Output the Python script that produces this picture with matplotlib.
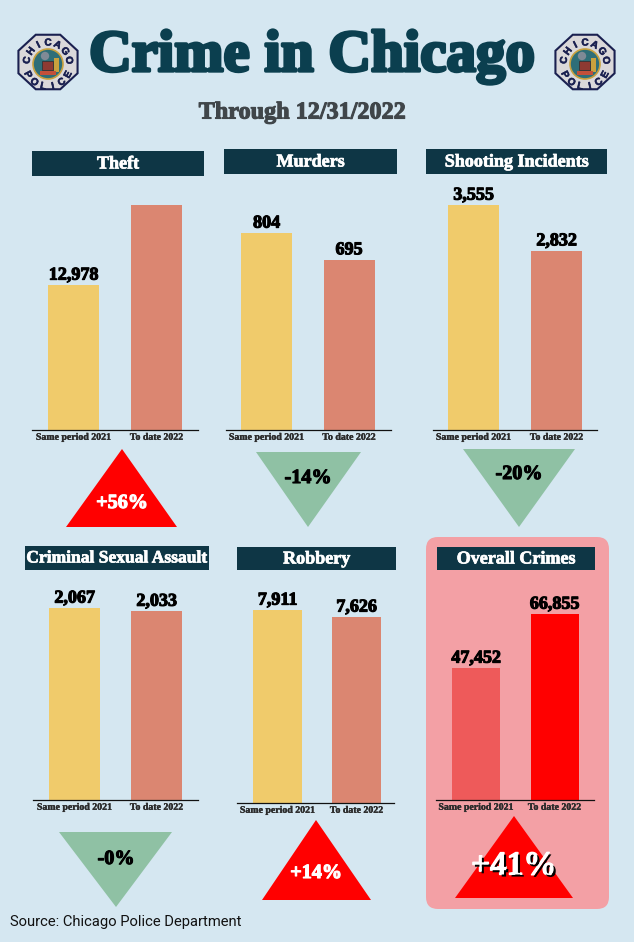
import numpy as np
import matplotlib
matplotlib.use("Agg")
import matplotlib.pyplot as plt
from matplotlib.patches import Polygon, Rectangle, FancyBboxPatch, Circle
import matplotlib.patheffects as pe

W, H = 634, 942
BG = "#D5E7F1"; NAVY = "#0E3645"; YEL = "#F0CB6B"; SAL = "#DB8671"
RED = "#FF0000"; GRN = "#8FC1A4"; LRED = "#EE5A5A"; PINK = "#F3A0A5"
SERIF = ["Liberation Serif", "DejaVu Serif"]

title = "Crime in Chicago"
subtitle = "Through 12/31/2022"
source = "Source: Chicago Police Department"
categories = ["Same period 2021", "To date 2022"]
panel_names = ["Theft", "Murders", "Shooting Incidents",
               "Criminal Sexual Assault", "Robbery", "Overall Crimes"]
theft = [12978, 20150]
murders = [804, 695]
shootings = [3555, 2832]
assault = [2067, 2033]
robbery = [7911, 7626]
overall = [47452, 66855]
changes = ["+56%", "-14%", "-20%", "-0%", "+14%", "+41%"]

fig = plt.figure(figsize=(W / 100, H / 100), dpi=100, facecolor=BG)
bgax = fig.add_axes([0, 0, 1, 1], zorder=0)
bgax.set_xlim(0, W); bgax.set_ylim(H, 0); bgax.axis("off")
top = fig.add_axes([0, 0, 1, 1], zorder=5)
top.set_xlim(0, W); top.set_ylim(H, 0); top.axis("off"); top.patch.set_alpha(0)


def bold(t, w=0.7, c=None):
    return t.set_path_effects([pe.withStroke(linewidth=w, foreground=c or t.get_color())])


def badge(cx, cy):
    ang = np.deg2rad(np.arange(22.5, 360, 45))
    top.add_patch(Polygon(np.c_[cx + 32 * np.cos(ang), cy + 29.5 * np.sin(ang)],
                          fc="#DAD8DA", ec="#1A2050", lw=1.5))
    c2 = cy + 2
    top.add_patch(Circle((cx, c2), 15, fc="#2E6E78", ec="#C9A13E", lw=1.2))
    top.add_patch(Rectangle((cx - 6, c2 - 3), 11, 9, fc="#8E3A32", ec="#222222", lw=0.4))
    top.add_patch(Circle((cx - 3, c2 - 8), 4.2, fc="#7F8A96", ec="none"))
    top.add_patch(Rectangle((cx + 6, c2 - 6), 5, 14, fc="#C9A13E", ec="none"))
    top.add_patch(Rectangle((cx - 8, c2 + 7), 16, 3.5, fc="#C2503A", ec="none"))
    for word, a0, a1, rr, up in [("CHICAGO", 190, 350, 21.5, True), ("POLICE", 152, 28, 22.5, False)]:
        for ch, a in zip(word, np.linspace(a0, a1, len(word))):
            ar = np.deg2rad(a)
            rot = (270 - a) if up else (90 - a)
            t = top.text(cx + rr * np.cos(ar), c2 + rr * np.sin(ar), ch, fontsize=7.2,
                         fontweight="bold", color="#1A2050", rotation=rot, ha="center",
                         va="center", family=["Liberation Sans", "DejaVu Sans"],
                         rotation_mode="anchor")
            bold(t, 0.4)


badge(48, 62)
badge(585, 62)

bold(top.text(312, 57, title, fontsize=42.5, fontweight="bold", color="#0B3F4F",
              ha="center", va="center", family=SERIF), 2.4)
bold(top.text(302, 113, subtitle, fontsize=17.4, fontweight="bold", color="#40464A",
              ha="center", va="center", family=SERIF), 0.8)
top.text(10, 922, source, fontsize=10.6, color="#111111", ha="left", va="center",
         family=["Roboto", "DejaVu Sans"])

bgax.add_patch(FancyBboxPatch((426 + 12, 537 + 12), 183 - 24, 372 - 24,
                              boxstyle="round,pad=12,rounding_size=12", fc=PINK, ec=PINK,
                              lw=0))

panels = [
    dict(vals=theft, name=panel_names[0], hdr=(32, 204, 151, 176), ax=(32, 198), base=430,
         bars=(48, 99, 131, 182), top_px=285, tri=(66, 177, 527, 122, 449), show=[True, False],
         colors=[YEL, SAL], ch=changes[0], chy=503, chc="white", chs=14.5),
    dict(vals=murders, name=panel_names[1], hdr=(224, 397, 149, 174), ax=(226, 391), base=430,
         bars=(241, 292, 323, 375), top_px=233, tri=(256, 361, 452, 308, 527), show=[True, True],
         colors=[YEL, SAL], ch=changes[1], chy=478, chc="black", chs=14.5),
    dict(vals=shootings, name=panel_names[2], hdr=(426, 607, 149, 174), ax=(433, 597), base=430,
         bars=(448, 499, 531, 582), top_px=205, tri=(463, 575, 449, 519, 527), show=[True, True],
         colors=[YEL, SAL], ch=changes[2], chy=474, chc="black", chs=14.5),
    dict(vals=assault, name=panel_names[3], hdr=(25, 209, 546, 570), ax=(33, 198), base=800,
         bars=(49, 100, 131, 182), top_px=608, tri=(59, 172, 832, 116, 907), show=[True, True],
         colors=[YEL, SAL], ch=changes[3], chy=859, chc="black", chs=14.5),
    dict(vals=robbery, name=panel_names[4], hdr=(237, 396, 547, 570), ax=(237, 394), base=803,
         bars=(253, 302, 332, 381), top_px=610, tri=(262, 371, 900, 316, 820), show=[True, True],
         colors=[YEL, SAL], ch=changes[4], chy=873, chc="white", chs=14.5),
    dict(vals=overall, name=panel_names[5], hdr=(437, 595, 547, 570), ax=(436, 594), base=800,
         bars=(452, 500, 530, 579), top_px=668, tri=(455, 573, 898, 514, 816), show=[True, True],
         colors=[LRED, RED], ch=changes[5], chy=866, chc="white", chs=24),
]

for p in panels:
    x0, x1, y0, y1 = p["hdr"]
    top.add_patch(Rectangle((x0, y0), x1 - x0, y1 - y0, fc=NAVY, ec="none"))
    fs = 12.6 if p["name"] == "Criminal Sexual Assault" else 13
    bold(top.text((x0 + x1) / 2, (y0 + y1) / 2 + 0.5, p["name"], fontsize=fs, fontweight="bold",
                  color="white", ha="center", va="center", family=SERIF), 0.5)

    ax0, ax1 = p["ax"]; base = p["base"]
    panel_h = base - 190 if base < 500 else base - 590
    ax = fig.add_axes([ax0 / W, 1 - base / H, (ax1 - ax0) / W, panel_h / H], zorder=2)
    ax.patch.set_alpha(0)
    b = p["bars"]
    spacing = ((b[2] + b[3]) - (b[0] + b[1])) / 2
    width = (b[1] - b[0]) / spacing
    c0 = (b[0] + b[1]) / 2
    ax.set_xlim((ax0 - c0) / spacing, (ax1 - c0) / spacing)
    ax.set_ylim(0, p["vals"][0] / (base - p["top_px"]) * panel_h)
    ax.bar([0, 1], p["vals"], width=width, color=p["colors"])
    for s in ["top", "left", "right"]:
        ax.spines[s].set_visible(False)
    ax.spines["bottom"].set_linewidth(0.9); ax.spines["bottom"].set_color("#111111")
    ax.set_yticks([])
    ax.set_xticks([0, 1], categories, fontsize=7.1, fontweight="bold", color="#2B2B2B",
                  family=SERIF)
    for lab in ax.get_xticklabels():
        bold(lab, 0.25)
    ax.tick_params(axis="x", length=0, pad=2)
    for i, v in enumerate(p["vals"]):
        if p["show"][i]:
            bold(ax.annotate(f"{v:,}", (i, v), xytext=(0, 1), textcoords="offset points",
                             ha="center", va="bottom", fontsize=13, fontweight="bold",
                             color="black", family=SERIF), 0.8)

    l, r, by, ax_, ay = p["tri"]
    top.add_patch(Polygon([(l, by), (r, by), (ax_, ay)], fc=RED if p["chc"] == "white" else GRN,
                          ec="none"))
    t = top.text(ax_, p["chy"], p["ch"], fontsize=p["chs"], fontweight="bold", color=p["chc"],
                 ha="center", va="center", family=SERIF)
    bold(t, 0.8)
    if p["name"] == "Overall Crimes":
        t.set_path_effects([pe.withStroke(linewidth=1.0, foreground="white"),
                            pe.SimplePatchShadow(offset=(1.5, -1.5), shadow_rgbFace="black", alpha=1),
                            pe.Normal()])

fig.savefig("out.png", dpi=100, facecolor=BG)
